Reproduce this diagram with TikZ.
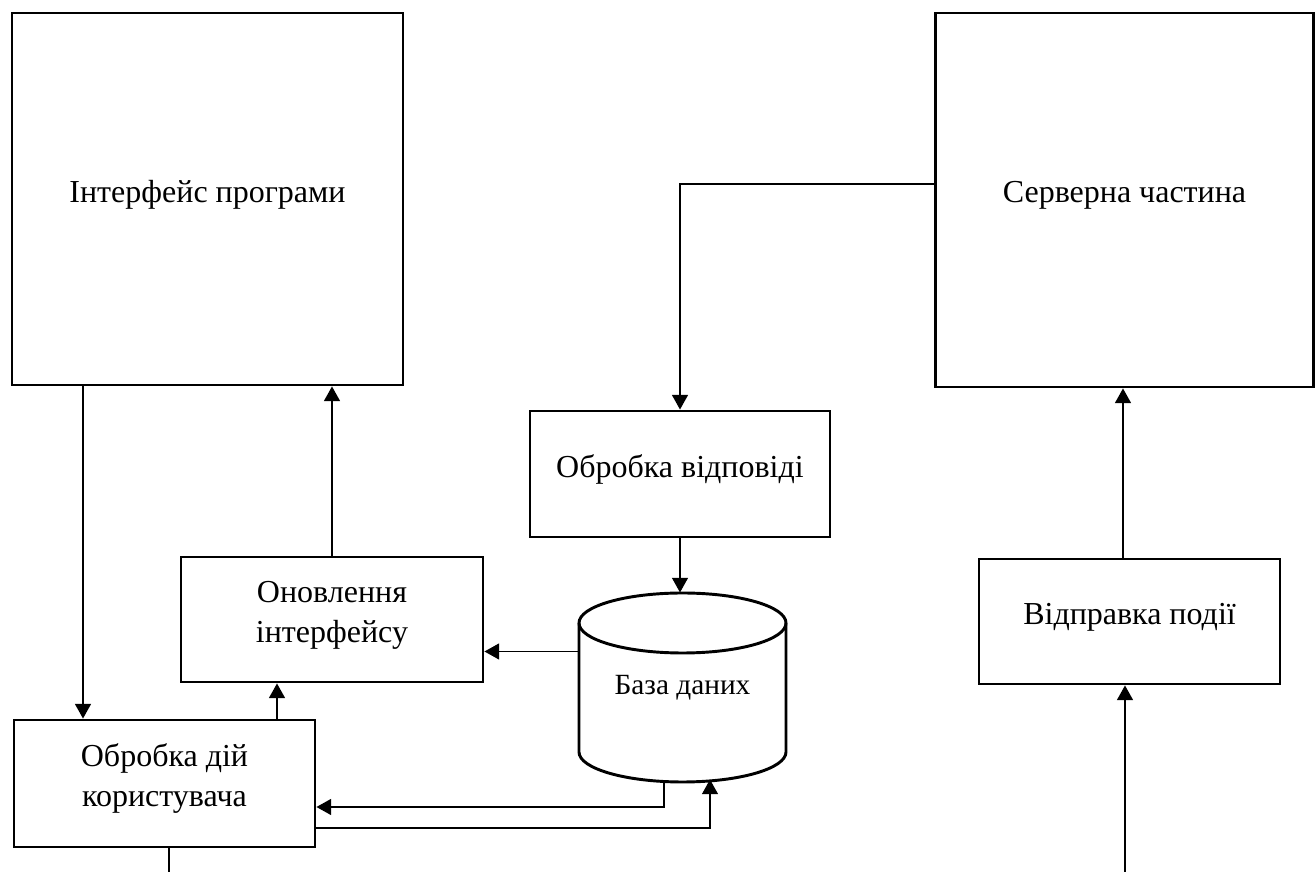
\documentclass[tikz,border=0pt]{standalone}
\usepackage{fontspec}
\setmainfont{Liberation Serif}
\usetikzlibrary{arrows.meta,calc}

\tikzset{
  blk/.style={draw, line width=1.1pt, align=center, text depth=6pt, font=\fontsize{12}{15}\selectfont},
  sz/.style 2 args={minimum width=#1*0.375pt, minimum height=#2*0.375pt},
  conn/.style={-{Triangle[length=5.5pt,width=6pt]}, line width=0.5pt},
  link/.style={line width=0.5pt}
}

\begin{document}
\begin{tikzpicture}[x=0.375pt,y=0.375pt]
  \useasboundingbox (0,0) rectangle (1316,872);

  % blocks
  \node[blk,sz={391}{372}] (ui) at (207.5,673) {Інтерфейс програми};
  \node[blk,sz={378}{374}] (srv) at (1124.5,672) {Серверна частина};
  \node[blk,sz={300}{126}] (resp) at (680,398) {Обробка відповіді};
  \node[blk,sz={302}{125}] (upd) at (332,252.5) {Оновлення\\інтерфейсу};
  \node[blk,sz={301}{125}] (send) at (1129.5,250.5) {Відправка події};
  \node[blk,sz={301}{127}] (act) at (164.5,88.5) {Обробка дій\\користувача};

  % database
  \node[sz={207}{189},font=\fontsize{11}{13}\selectfont] (db) at (682.5,184.5) {База даних};
  \draw[line width=1.1pt] (579,249) -- (579,120)
    arc[start angle=180,end angle=360,x radius=103.5,y radius=30]
    -- (786,249) arc[start angle=0,end angle=180,x radius=103.5,y radius=30];
  \draw[line width=1.1pt] (579,249) arc[start angle=180,end angle=360,x radius=103.5,y radius=30];

  % free ends at the border
  \coordinate (out1) at (169,0);
  \coordinate (in1) at (1125,0);

  % connectors
  \draw[conn] ($(ui.south)+(-124.5,0)$) coordinate (p1) -- (p1 |- act.north);
  \draw[conn] ($(act.north)+(112.5,0)$) coordinate (p2) -- (p2 |- upd.south);
  \draw[conn] (upd.north) -- (upd.north |- ui.south);
  \draw[conn] ($(db.west)+(0,36)$) coordinate (p4) -- (p4 -| upd.east);
  \draw[conn] ($(srv.west)+(0,16)$) -| (resp.north);
  \draw[conn] (resp.south) -- (resp.south |- db.north);
  \draw[conn] ($(db.south)+(-18.5,1)$) |- ($(act.east)+(0,-23.5)$);
  \draw[conn] ($(act.east)+(0,-44.5)$) -| ($(db.south)+(27.5,3)$);
  \draw[link] (act.south -| out1) -- (out1);
  \draw[conn] (in1) -- (in1 |- send.south);
  \draw[conn] ($(send.north)+(-6.5,0)$) coordinate (p11) -- (p11 |- srv.south);
\end{tikzpicture}
\end{document}
